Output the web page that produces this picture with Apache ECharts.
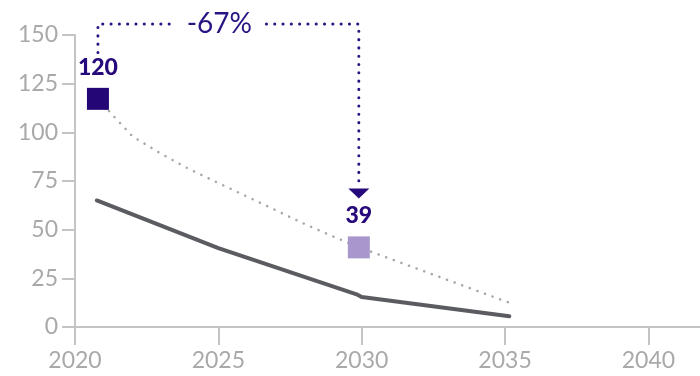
<!DOCTYPE html>
<html><head><meta charset="utf-8">
<script src="https://cdn.jsdelivr.net/npm/echarts@6/dist/echarts.min.js"></script>
<style>html,body{margin:0;padding:0;background:#fff}#c{width:700px;height:376px}</style>
</head><body><div id="c"></div>
<script>
// ---- data ----
const xTicks = [2020, 2025, 2030, 2035, 2040];
const solidYears = [2020.76, 2025, 2029.85, 2030, 2035.15];
const solidValues = [65, 40.5, 16.6, 15.4, 5.5];
const dottedYears = [2020.8, 2022, 2023, 2024, 2025, 2026, 2027, 2028, 2029, 2029.9, 2035.18];
const dottedValues = [117, 98, 89, 81, 74, 67, 60, 53, 46.5, 41, 12.3];
const markerYears = [2020.8, 2029.9];
const markerValues = [117.2, 40.9];
const markerLabels = ['120', '39'];
const changeLabel = '-67%';
// annotation levels (value units)
const annotTop = 155.6, annotLeftBottom = 141, annotRightBottom = 74.5, arrowTip = 66;

const chart = echarts.init(document.getElementById('c'));
const axisColor = '#c4c4c4', labelColor = '#a9a9a9', ff = 'Lato';
const indigo = '#26097a';
chart.setOption({
  animation: false,
  grid: {left: 75, right: 0, top: 35, bottom: 49},
  xAxis: {
    type: 'value', min: 2020, max: 2041.8, interval: 5,
    axisLine: {lineStyle: {color: axisColor, width: 2}},
    axisTick: {customValues: xTicks, length: 18, lineStyle: {color: axisColor, width: 2}},
    axisLabel: {customValues: xTicks, formatter: v => String(v), color: labelColor, fontSize: 23, fontFamily: ff, fontWeight: 'normal', margin: 22},
    splitLine: {show: false}
  },
  yAxis: {
    type: 'value', min: 0, max: 150, interval: 25,
    axisLine: {show: true, lineStyle: {color: axisColor, width: 2}},
    axisTick: {show: true, length: 13, lineStyle: {color: axisColor, width: 2}},
    axisLabel: {color: labelColor, fontSize: 23, fontFamily: ff, fontWeight: 'normal', margin: 17},
    splitLine: {show: false}
  },
  series: [
    {type: 'line', data: dottedYears.map((y, i) => [y, dottedValues[i]]), showSymbol: false,
     lineStyle: {color: '#a6a6a6', width: 2.5, type: [0.1, 8], cap: 'round'}, z: 2},
    {type: 'line', data: solidYears.map((y, i) => [y, solidValues[i]]), showSymbol: false,
     lineStyle: {color: '#5a5c62', width: 4, cap: 'round', join: 'round'}, z: 3},
    {type: 'scatter', symbol: 'rect', symbolSize: 22, z: 5,
     data: markerYears.map((y, i) => ({value: [y, markerValues[i]], itemStyle: {color: i === 0 ? '#240677' : '#a797cc', opacity: 1}})),
     label: {show: true, position: 'top', distance: 9, formatter: p => markerLabels[p.dataIndex],
             color: indigo, fontSize: 23, fontWeight: 900, fontFamily: ff}}
  ]
});

function px(x, y) { return chart.convertToPixel({gridIndex: 0}, [x, y]); }
const pL = px(markerYears[0], annotLeftBottom);
const pTopL = px(markerYears[0], annotTop);
const pTopR = px(markerYears[1], annotTop);
const pR = px(markerYears[1], annotRightBottom);
const pTip = px(markerYears[1], arrowTip);
const midX = (pTopL[0] + pTopR[0]) / 2 - 9;
const gap = 47;
const dotStyle = {stroke: '#2a1483', lineWidth: 3, lineDash: [0.1, 8.2], lineCap: 'round', fill: null};
chart.setOption({
  graphic: [
    {type: 'polyline', shape: {points: [pL, pTopL, [midX - gap, pTopL[1]]]}, style: dotStyle, silent: true},
    {type: 'polyline', shape: {points: [[midX + gap, pTopR[1]], pTopR, pR]}, style: dotStyle, silent: true},
    {type: 'polygon', shape: {points: [[pTip[0] - 10.5, pTip[1] - 10], [pTip[0] + 10.5, pTip[1] - 10], [pTip[0], pTip[1]]]},
     style: {fill: indigo}, silent: true},
    {type: 'text', x: midX, y: pTopL[1], style: {text: changeLabel, fill: '#2a1483', font: 'normal 28px Lato', align: 'center', verticalAlign: 'middle'}, silent: true}
  ]
});
</script></body></html>
